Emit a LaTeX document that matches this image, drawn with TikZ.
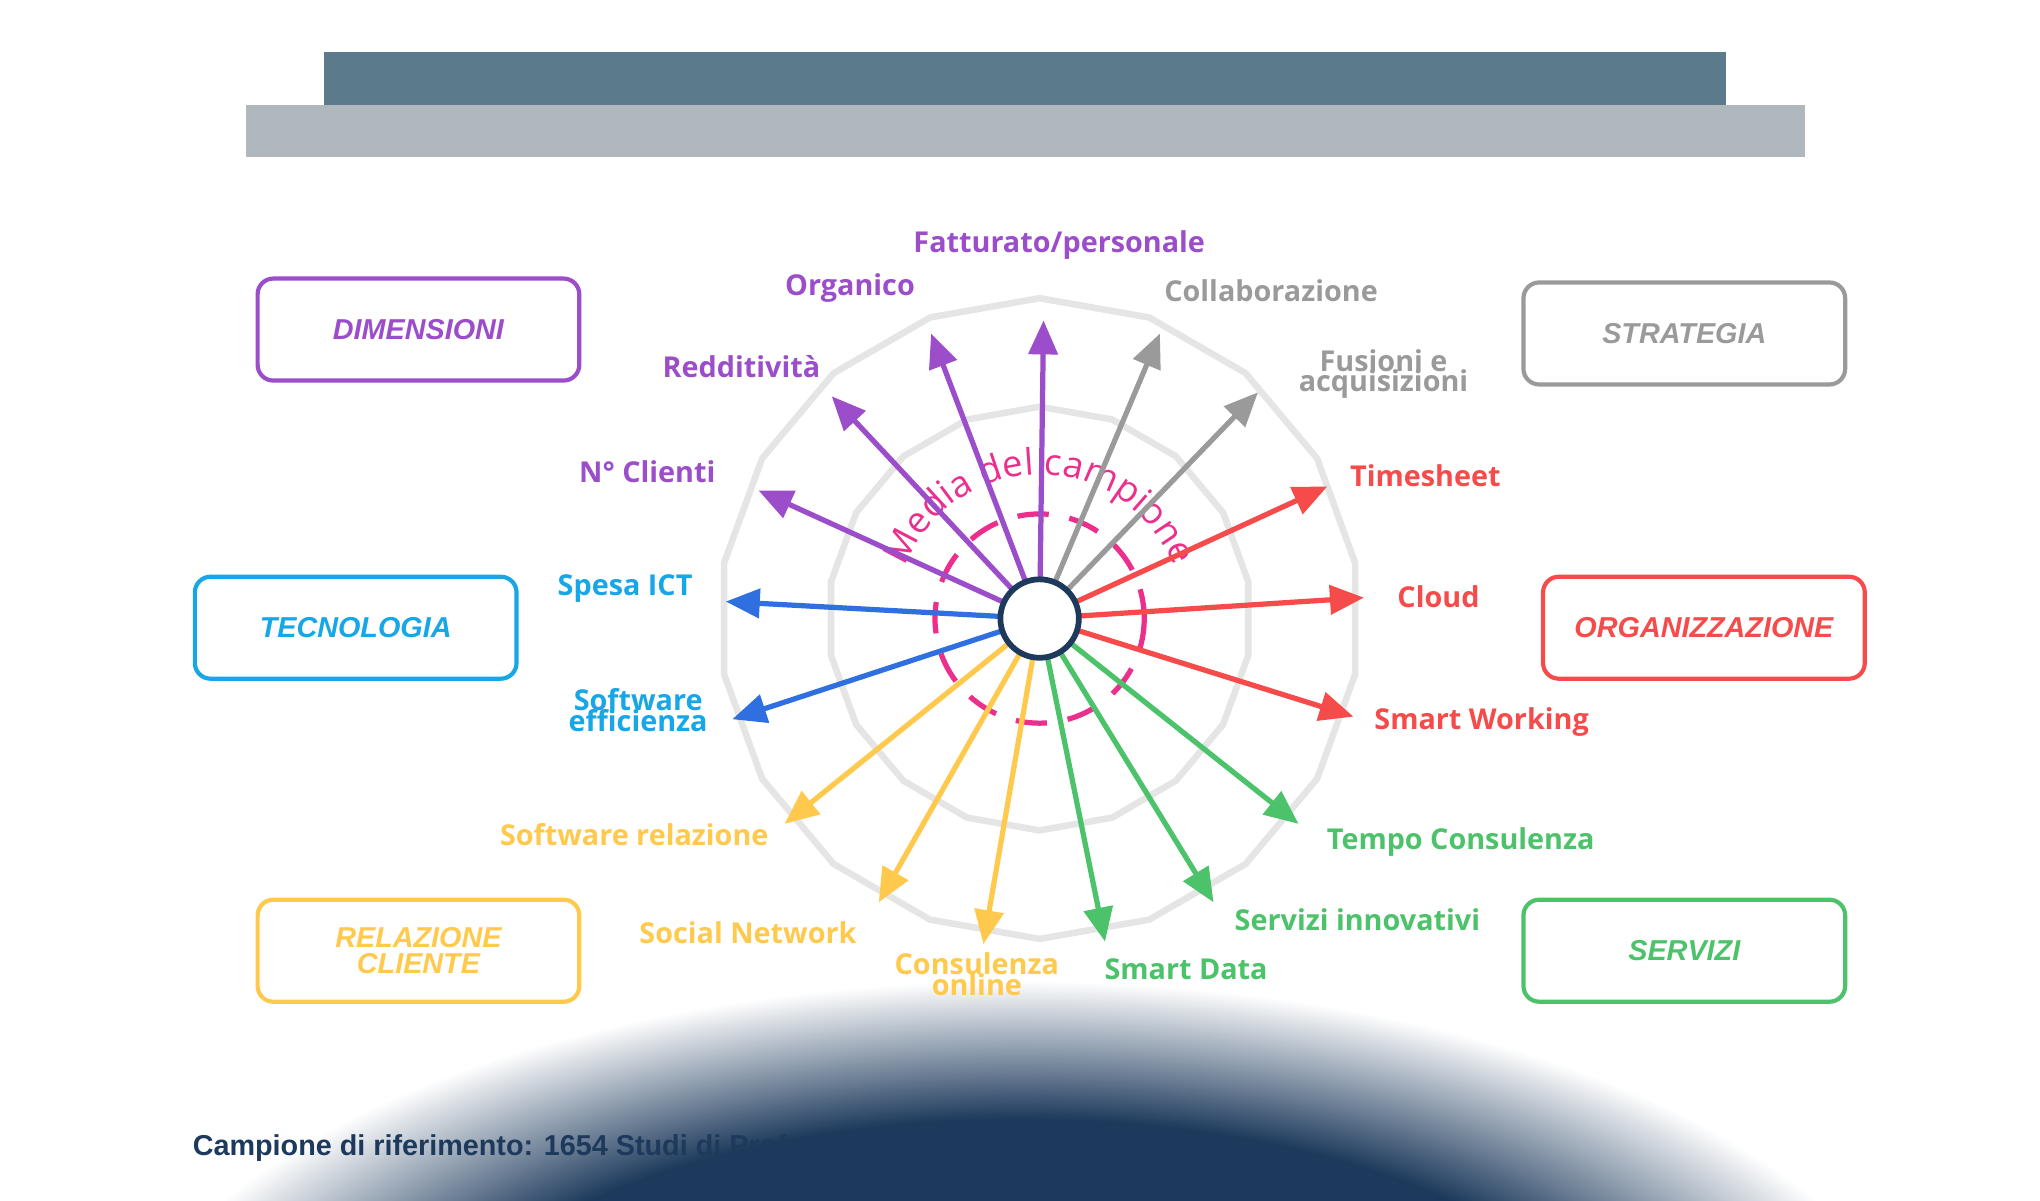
\documentclass[tikz,border=0pt]{standalone}
\usepackage{fontspec}
\setmainfont{Open Sans}
\newfontfamily\arialf{Liberation Sans}
\usetikzlibrary{arrows.meta,decorations.text,calc}
\definecolor{cpur}{HTML}{9B4DCA}
\definecolor{cgry}{HTML}{9A9A9A}
\definecolor{cred}{HTML}{F54B4B}
\definecolor{cgrn}{HTML}{4CC26A}
\definecolor{cyel}{HTML}{FFC94D}
\definecolor{cblu}{HTML}{2F6FE0}
\definecolor{ccya}{HTML}{17A6E6}
\definecolor{cpink}{HTML}{EC2F8C}
\definecolor{cnavy}{HTML}{1D3A5C}
\definecolor{barD}{HTML}{5B7A8C}
\definecolor{barL}{HTML}{B0B7BD}
\pgfdeclareradialshading{glow}{\pgfpoint{0bp}{0bp}}{color(0bp)=(cnavy);color(17bp)=(cnavy);color(25bp)=(white);color(50bp)=(white)}
\tikzset{
 arr/.style={line width=2pt,-{Triangle[length=13pt,width=11pt]}},
 box/.style={draw,line width=1.6pt,rounded corners=6pt,minimum width=123pt,minimum height=39pt,font=\arialf\bfseries\itshape\fontsize{11}{12}\selectfont,align=center},
 lab/.style={font=\bfseries\fontsize{11}{11}\selectfont,align=center,inner sep=0pt},
}
\begin{document}
\begin{tikzpicture}[x=0.5pt,y=-0.5pt]
\useasboundingbox (0,0) rectangle (1560,918);
\begin{scope}
\clip (0,0) rectangle (1560,918);
\shade[shading=glow] (780,1080) ellipse (700 and 330);
\end{scope}
\fill[barD] (248,40) rectangle (1320,80);
\fill[barL] (188,80) rectangle (1380,120);
% web
\coordinate (o) at (795,473);
\foreach \r in {245,162}{
\draw[line width=2.5pt,black!10] ($(o)+(90:\r)$) \foreach \a in {110,130,...,430}{ -- ($(o)+(\a:\r)$)} -- cycle;
}
\draw[cpink,line width=2pt,dash pattern=on 12pt off 8pt] (o) circle (80);
\begin{scope}[shift={(o)},x=0.5pt,y=0.5pt]
\path[decorate,decoration={text along path,text align=center,text={|\fontsize{14}{14}\selectfont\color{cpink}|Media del campione}}] (162:110) arc[start angle=162,end angle=18,radius=110];
\end{scope}
% endpoints
\coordinate (e1) at (798,245); \coordinate (e2) at (712,255);
\coordinate (e3) at (636,303); \coordinate (e4) at (580,375);
\coordinate (e5) at (887,255); \coordinate (e6) at (962,300);
\coordinate (e7) at (1015,372); \coordinate (e8) at (1043,457);
\coordinate (e9) at (1035,548); \coordinate (e10) at (993,630);
\coordinate (e11) at (928,690); \coordinate (e12) at (845,720);
\coordinate (e13) at (752,722); \coordinate (e14) at (672,690);
\coordinate (e15) at (600,630); \coordinate (e16) at (555,460);
\coordinate (e17) at (560,550);
\foreach \i in {1,2,3,4} \draw[arr,cpur] (o) -- (e\i);
\foreach \i in {5,6} \draw[arr,cgry] (o) -- (e\i);
\foreach \i in {7,8,9} \draw[arr,cred] (o) -- (e\i);
\foreach \i in {10,11,12} \draw[arr,cgrn] (o) -- (e\i);
\foreach \i in {13,14,15} \draw[arr,cyel] (o) -- (e\i);
\foreach \i in {16,17} \draw[arr,cblu] (o) -- (e\i);
\node[circle,draw=cnavy,fill=white,line width=2.2pt,minimum size=30pt,inner sep=0pt] (c) at (o) {};
% labels
\node[lab,cpur] (l1) at (810,187) {Fatturato/personale};
\node[lab,cpur] (l2) at (650,220) {Organico};
\node[lab,cpur] (l3) at (567,280) {Redditività};
\node[lab,cpur] (l4) at (495,361) {N° Clienti};
\node[lab,cgry] (l5) at (972,222) {Collaborazione};
\node[lab,cgry] (l6) at (1058,286) {Fusioni e\\[-3pt]acquisizioni};
\node[lab,cred] (l7) at (1090,364) {Timesheet};
\node[lab,cred] (l8) at (1100,456) {Cloud};
\node[lab,cred] (l9) at (1133,552) {Smart Working};
\node[lab,cgrn] (l10) at (1117,644) {Tempo Consulenza};
\node[lab,cgrn] (l11) at (1038,703) {Servizi innovativi};
\node[lab,cgrn] (l12) at (907,741) {Smart Data};
\node[lab,cyel] (l13) at (747,745) {Consulenza\\[-3pt]online};
\node[lab,cyel] (l14) at (572,713) {Social Network};
\node[lab,cyel] (l15) at (485,638) {Software relazione};
\node[lab,ccya] (l16) at (478,450) {Spesa ICT};
\node[lab,ccya] (l17) at (488,543) {Software\\[-3pt]efficienza};
% boxes
\node[box,cpur] (b1) at (320,252) {DIMENSIONI};
\node[box,cgry] (b2) at (1288,255) {STRATEGIA};
\node[box,ccya] (b3) at (272,480) {TECNOLOGIA};
\node[box,cred] (b4) at (1303,480) {ORGANIZZAZIONE};
\node[box,cyel] (b5) at (320,727) {RELAZIONE\\[-2pt]CLIENTE};
\node[box,cgrn] (b6) at (1288,727) {SERVIZI};
\node[anchor=west,inner sep=0pt,cnavy,font=\arialf\bfseries\fontsize{11}{12}\selectfont] (ft) at (147,878) {Campione di riferimento: 1654 Studi di Professionisti};
\end{tikzpicture}
\end{document}
